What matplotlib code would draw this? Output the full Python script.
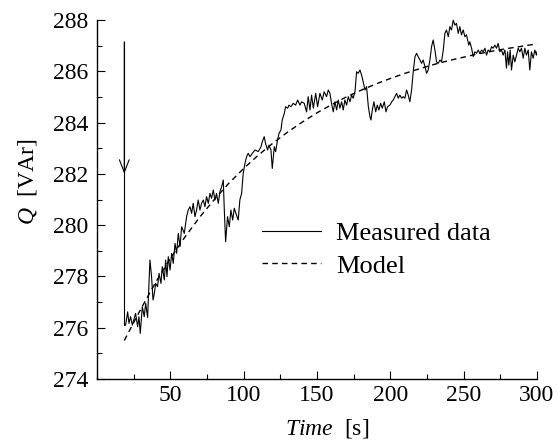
import matplotlib
matplotlib.use("Agg")
import matplotlib.pyplot as plt
from matplotlib.ticker import MultipleLocator

plt.rcParams['font.family'] = 'Liberation Serif'
plt.rcParams['mathtext.fontset'] = 'custom'
plt.rcParams['mathtext.rm'] = 'Liberation Serif'
plt.rcParams['mathtext.it'] = 'Liberation Serif:italic'

# measured reactive power
t_meas = [19.0, 19.5, 20.9, 21.8, 22.9, 24.1, 25.4, 26.3, 27.7, 28.6,
          29.5, 30.9, 32.2, 33.2, 34.5, 36.1, 37.2, 38.2, 39.1, 40.0,
          41.3, 42.3, 43.6, 44.5, 45.9, 46.8, 47.7, 48.6, 49.8, 50.9,
          52.0, 53.2, 54.3, 55.4, 56.6, 57.7, 59.5, 61.1, 62.2, 63.4,
          64.5, 65.6, 66.8, 67.9, 69.0, 70.2, 71.3, 72.5, 73.6, 74.7,
          75.9, 77.0, 78.1, 79.3, 80.4, 81.5, 82.7, 83.8, 85.0, 86.1,
          86.8, 87.7, 89.0, 90.2, 91.3, 92.5, 93.6, 94.7, 96.3, 97.4,
          98.6, 99.7, 100.9, 102.0, 103.1, 104.3, 105.9, 107.7, 110.0, 111.8,
          112.7, 114.0, 114.9, 116.3, 117.2, 118.6, 119.5, 120.9, 121.8, 123.1,
          124.1, 125.4, 126.3, 127.7, 128.6, 130.0, 130.9, 132.2, 133.8, 135.4,
          136.8, 138.4, 139.5, 141.3, 142.9, 144.0, 145.2, 146.3, 147.5, 149.1,
          150.4, 152.0, 153.6, 154.9, 156.5, 157.7, 158.8, 159.9, 161.1, 162.2,
          163.4, 164.5, 165.6, 166.8, 167.9, 169.0, 170.2, 171.3, 172.5, 173.6,
          174.7, 175.9, 177.0, 178.1, 179.3, 180.4, 181.5, 182.7, 183.8, 185.0,
          186.1, 186.8, 187.7, 188.8, 190.0, 191.1, 192.2, 193.4, 194.5, 195.9,
          197.0, 198.1, 199.7, 200.9, 202.0, 203.1, 204.3, 205.4, 206.5, 207.7,
          208.8, 209.9, 211.1, 212.2, 213.3, 214.5, 215.6, 216.8, 217.9, 219.0,
          220.2, 221.3, 222.4, 223.6, 224.7, 225.8, 227.0, 228.1, 229.2, 230.4,
          231.5, 232.7, 233.8, 234.9, 236.1, 237.2, 238.3, 239.5, 240.6, 241.7,
          242.9, 244.0, 245.1, 246.3, 247.4, 248.5, 249.7, 250.8, 251.9, 253.5,
          254.2, 255.4, 256.5, 257.6, 258.8, 259.9, 261.0, 262.2, 263.3, 264.5,
          265.6, 266.7, 267.9, 269.0, 270.1, 271.3, 272.4, 273.5, 274.7, 275.8,
          276.9, 278.1, 279.2, 279.9, 280.8, 281.7, 282.6, 283.8, 284.9, 286.0,
          287.2, 288.3, 289.4, 290.6, 291.7, 292.8, 294.0, 295.1, 296.2, 297.4,
          298.5, 299.6, 300.0]
q_meas = [276.10, 276.10, 276.62, 276.17, 276.43, 276.10, 276.37, 276.56, 276.04, 276.43,
          275.78, 276.82, 276.43, 276.95, 276.40, 278.64, 277.99, 277.08, 277.34, 277.73,
          277.60, 278.12, 277.73, 278.38, 277.86, 278.64, 277.99, 278.77, 278.25, 278.90,
          278.51, 279.29, 278.90, 279.68, 279.16, 279.94, 279.68, 280.33, 280.59, 280.72,
          280.46, 280.85, 280.33, 280.59, 280.98, 280.59, 280.85, 280.98, 280.72, 281.11,
          280.85, 281.24, 281.05, 281.37, 280.98, 281.24, 280.85, 281.30, 281.50, 281.76,
          280.59, 279.35, 280.33, 279.94, 280.59, 280.20, 280.66, 280.46, 280.20, 280.98,
          281.24, 282.02, 282.41, 282.67, 282.80, 282.67, 282.80, 282.93, 282.87, 283.06,
          283.25, 283.45, 283.19, 282.93, 283.12, 282.93, 282.21, 283.06, 282.87, 283.32,
          283.58, 283.71, 284.10, 284.36, 284.62, 284.56, 284.68, 284.62, 284.75, 284.68,
          284.88, 284.68, 284.81, 284.75, 284.42, 285.01, 284.49, 285.07, 284.56, 285.14,
          284.62, 285.14, 284.88, 285.20, 285.01, 285.27, 285.14, 284.75, 284.42, 284.81,
          284.49, 284.88, 284.56, 284.81, 284.49, 284.88, 284.68, 285.01, 284.81, 285.07,
          284.95, 285.20, 285.98, 285.92, 286.05, 285.85, 285.59, 285.27, 285.40, 284.62,
          284.23, 284.10, 284.49, 284.81, 284.42, 284.68, 284.49, 284.75, 284.56, 284.81,
          284.42, 284.62, 284.68, 284.81, 284.88, 285.01, 285.14, 284.95, 285.07, 284.95,
          285.01, 284.95, 285.27, 285.07, 284.81, 285.27, 285.98, 286.57, 286.70, 286.57,
          286.44, 286.31, 286.44, 286.18, 285.92, 286.05, 286.44, 286.96, 287.22, 286.83,
          286.37, 286.31, 286.44, 286.37, 286.83, 287.48, 287.61, 287.35, 287.74, 287.61,
          288.00, 287.80, 287.87, 287.48, 287.74, 287.42, 287.61, 287.35, 287.42, 287.02,
          287.15, 286.90, 286.57, 286.76, 286.70, 286.83, 286.70, 286.83, 286.76, 286.90,
          286.63, 286.83, 286.76, 286.96, 286.90, 287.02, 286.90, 287.09, 286.76, 286.83,
          286.63, 286.83, 286.12, 286.76, 286.24, 286.83, 286.05, 286.63, 286.37, 286.63,
          286.90, 286.76, 286.90, 286.51, 286.90, 286.63, 286.83, 286.05, 286.76, 286.51,
          286.83, 286.63, 286.76]

# model curve
t_model = [18.6, 25, 30, 40, 50, 60, 70, 80, 90, 100, 110, 120, 130, 140, 150,
           160, 170, 180, 190, 200, 210, 220, 230, 240, 250, 260, 270, 280, 290, 300]
q_model = [275.5, 276.2, 276.74, 277.77, 278.7, 279.54, 280.31, 281.0, 281.64, 282.21,
           282.73, 283.2, 283.63, 284.02, 284.38, 284.7, 285.0, 285.26, 285.5, 285.72,
           285.92, 286.1, 286.27, 286.42, 286.55, 286.68, 286.79, 286.89, 286.98, 287.07]

# step marker (vertical arrow)
t_step = 18.6
q_step_top = 287.15
q_arrow_head = 282.0

fig = plt.figure(figsize=(5.58, 4.40), dpi=100)
ax = fig.add_axes([97 / 558, 1 - 379 / 440, 440 / 558, 359 / 440])

ax.plot(t_meas, q_meas, color='black', lw=0.8, label='Measured data')
ax.plot(t_model, q_model, color='black', lw=1.0, dashes=(4, 3), label='Model')

ax.plot([t_step, t_step], [q_step_top, q_meas[0]], color='black', lw=0.8)
ax.annotate('', xy=(t_step, q_arrow_head), xytext=(t_step, q_step_top),
            arrowprops=dict(arrowstyle='->,head_length=0.9,head_width=0.35',
                            color='black', lw=0.8, shrinkA=0, shrinkB=0))

ax.set_xlim(0, 300)
ax.set_ylim(274, 288)
ax.spines['top'].set_visible(False)
ax.spines['right'].set_visible(False)
for s in ('left', 'bottom'):
    ax.spines[s].set_linewidth(1.0)

ax.set_xticks(range(50, 301, 50))
ax.xaxis.set_minor_locator(MultipleLocator(25))
ax.yaxis.set_major_locator(MultipleLocator(2))
ax.yaxis.set_minor_locator(MultipleLocator(1))
ax.tick_params(which='both', direction='in', top=False, right=False, width=0.8)
ax.tick_params(which='major', length=5.5, labelsize=17)
ax.tick_params(which='minor', length=3.5)
ax.tick_params(axis='x', pad=4)
ax.tick_params(axis='y', pad=6.5)

ax.set_xlabel(r'$Time$  [s]', fontsize=17)
ax.set_ylabel(r'$Q$  [VAr]', fontsize=17)
ax.xaxis.set_label_coords(0.522, -0.105)
ax.yaxis.set_label_coords(-0.132, 0.549)

ax.legend(loc='center left', bbox_to_anchor=(262 / 558, 1 - 249.5 / 440),
          bbox_transform=fig.transFigure, frameon=False, fontsize=19,
          handlelength=2.23, handletextpad=0.57, labelspacing=0.35,
          borderpad=0, borderaxespad=0)

fig.savefig('out.png', dpi=100)
